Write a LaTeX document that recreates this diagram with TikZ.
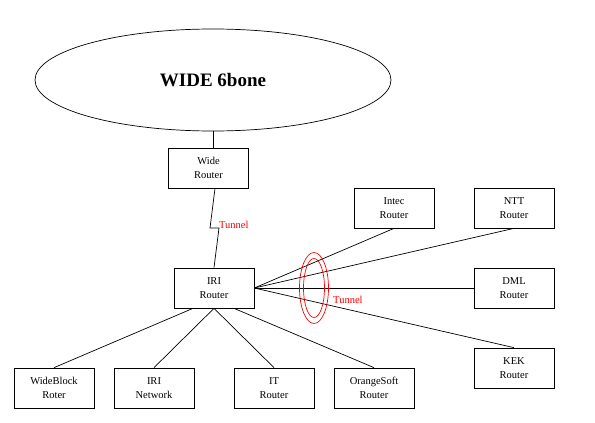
\documentclass[tikz,border=0pt]{standalone}
\usepackage{fontspec}
\setmainfont{Liberation Serif}
\usetikzlibrary{shapes.geometric,positioning,calc}
\definecolor{tunred}{RGB}{255,0,0}

\begin{document}
\begin{tikzpicture}[
  x=1pt, y=-1pt,
  font=\fontsize{10.5}{14}\selectfont,
  link/.style={line width=0.7pt, draw=black},
  box/.style={rectangle, draw=black, line width=0.7pt,
              minimum width=80pt, minimum height=40pt,
              inner sep=0pt, align=center},
  tag/.style={text=tunred, inner sep=0pt, anchor=west},
  ring/.style={draw=tunred, line width=0.7pt}
]
\useasboundingbox (0,0) rectangle (595,423);

% --- Backbone ---
\node[ellipse, draw=black, line width=0.7pt, minimum width=356pt,
      minimum height=102pt, inner sep=0pt,
      font=\fontsize{19}{22}\selectfont\bfseries] (bone) at (213,80) {WIDE 6bone};

% --- Routers ---
\node[box] (wide)   at (208.5,168) {Wide\\Router};
\node[box] (iri)    at (214,288)   {IRI\\Router};
\node[box] (intec)  at (394,208)   {Intec\\Router};
\node[box] (ntt)    at (514,208)   {NTT\\Router};
\node[box] (dml)    at (514,288)   {DML\\Router};
\node[box] (kek)    at (514,368)   {KEK\\Router};

% --- Bottom row ---
\node[box] (wblock) at (54,388)    {WideBlock\\Roter};
\node[box] (irinet) at (154,388)   {IRI\\Network};
\node[box] (it)     at (274,388)   {IT\\Router};
\node[box] (orange) at (374,388)   {OrangeSoft\\Router};

% --- Links ---
\draw[link] (bone.south) -- (bone.south |- wide.north);
\coordinate (zl) at (210,228);
\coordinate (zr) at (219,228);
\draw[link] ([xshift=6.5pt]wide.south) -- (zl) -- (zr) -- (iri.north);
\node[tag] (tun1) at (219,225) {Tunnel};

\draw[link] (iri.east) -- (intec.south);
\draw[link] (iri.east) -- (ntt.south);
\draw[link] (iri.east) -- (dml.west);
\draw[link] (iri.east) -- (kek.north);

\draw[link] ([xshift=-21pt]iri.south) -- (wblock.north);
\draw[link] (iri.south) -- (irinet.north);
\draw[link] (iri.south) -- (it.north);
\draw[link] ([xshift=20pt]iri.south) -- (orange.north);

% --- Tunnel rings ---
\coordinate (ringc) at (314,288);
\draw[ring] (ringc) ellipse [x radius=14.5, y radius=35.5];
\draw[ring] (ringc) ellipse [x radius=10.5, y radius=29.5];
\node[tag] (tun2) at (333,300) {Tunnel};

\end{tikzpicture}
\end{document}
